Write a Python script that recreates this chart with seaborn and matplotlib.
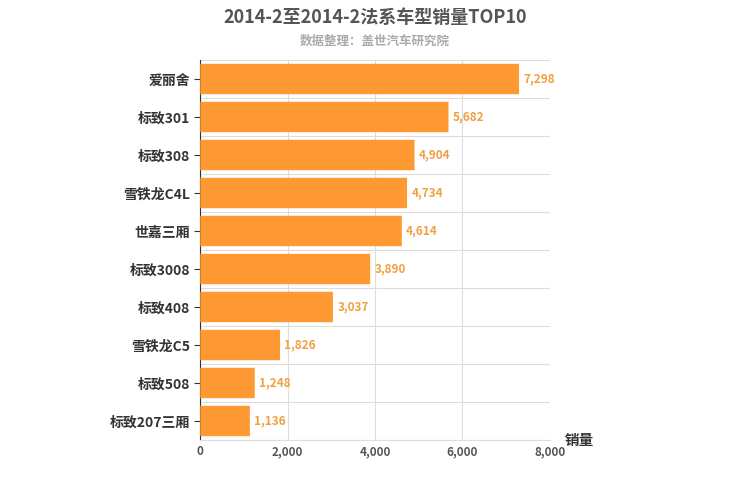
import matplotlib.pyplot as plt
import seaborn as sns
import pandas as pd
from matplotlib.patches import FancyBboxPatch

plt.rcParams['font.sans-serif'] = ['Noto Sans CJK SC', 'DejaVu Sans']
plt.rcParams['axes.unicode_minus'] = False

# 车型与销量
models = ['爱丽舍', '标致301', '标致308', '雪铁龙C4L', '世嘉三厢',
          '标致3008', '标致408', '雪铁龙C5', '标致508', '标致207三厢']
sales = [7298, 5682, 4904, 4734, 4614, 3890, 3037, 1826, 1248, 1136]
xticks = [0, 2000, 4000, 6000, 8000]

df = pd.DataFrame({'model': models, 'sales': sales})

fig = plt.figure(figsize=(7.5, 5), dpi=100)
ax = fig.add_axes([0.267, 0.12, 0.466, 0.76])
sns.barplot(data=df, y='model', x='sales', color='#FF9933', width=0.8, ax=ax)

# 圆角柱
for p in list(ax.patches):
    x, y, w, h = p.get_x(), p.get_y(), p.get_width(), p.get_height()
    p.remove()
    ax.add_patch(FancyBboxPatch((x, y), w, h,
                                boxstyle='round,pad=0,rounding_size=0.25',
                                mutation_aspect=1 / 0.0009 * 0.0009,
                                facecolor='#FF9933', edgecolor='none', zorder=3))

for i, v in enumerate(sales):
    ax.text(v + 100, i, f'{v:,}', va='center', ha='left', fontsize=8.5,
            color='#F0A040', fontweight='bold', zorder=4)

ax.set_xlim(0, 8000)
ax.set_ylim(len(models) - 0.5, -0.5)
ax.set_xticks(xticks)
ax.set_xticklabels([f'{t:,}' for t in xticks], fontsize=8.5, color='#555555', fontweight='bold')
ax.set_yticks(range(len(models)))
ax.set_yticklabels(models, fontsize=10, color='#333333', fontweight='bold')
ax.set_xlabel('')
ax.set_ylabel('')

ax.grid(axis='x', color='#DDDDDD', lw=0.8, zorder=0)
for k in range(len(models) + 1):
    ax.axhline(k - 0.5, color='#DDDDDD', lw=0.8, zorder=0)
for s in ['top', 'right']:
    ax.spines[s].set_visible(False)
ax.spines['bottom'].set_color('#DDDDDD')
ax.spines['left'].set_color('#333333')
ax.tick_params(axis='x', length=0)
ax.tick_params(axis='y', length=4, color='#333333')

fig.text(0.5, 0.965, '2014-2至2014-2法系车型销量TOP10', ha='center', va='center',
         fontsize=13, fontweight='bold', color='#555555')
fig.text(0.5, 0.918, '数据整理：盖世汽车研究院', ha='center', va='center',
         fontsize=9, color='#AAAAAA', fontweight='bold')
fig.text(0.753, 0.12, '销量', ha='left', va='center', fontsize=10.5,
         fontweight='bold', color='#333333')

fig.savefig('out.png', dpi=100)
